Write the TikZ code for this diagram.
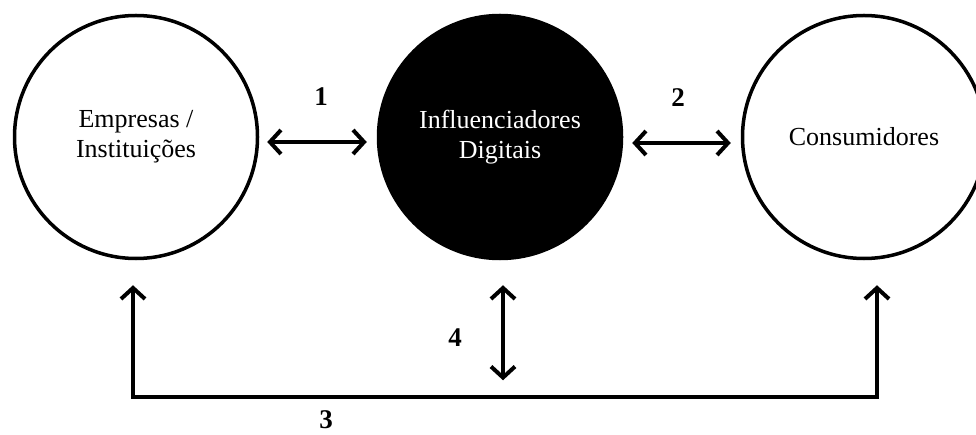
\documentclass[tikz,border=0pt]{standalone}
\usepackage{fontspec}
\setmainfont{Liberation Serif}
\usepackage{tikz}
\usepackage{xcolor}
\usetikzlibrary{arrows.meta, positioning, calc}

\begin{document}
\begin{tikzpicture}[
    x=1pt, y=1pt,
    circ/.style={circle, draw=black, line width=3.5pt, minimum size=243pt, inner sep=0pt, align=center, font=\fontsize{26}{30}\selectfont},
    circW/.style={circ, fill=white, text=black},
    circB/.style={circ, fill=black, text=white},
    link/.style={line width=4pt, black, {Straight Barb[length=11pt, width=24pt]}-{Straight Barb[length=11pt, width=24pt]}},
    numlabel/.style={font=\fontsize{27}{30}\selectfont\bfseries}
]
\useasboundingbox (0,0) rectangle (976,434);

% Actors
\node[circW] (emp) at (136,297) {Empresas /\\Instituições};
\node[circB] (infl) at (500,297) {Influenciadores\\Digitais};
\node[circW] (cons) at (864,297) {Consumidores};

% Links between the circles
\draw[link] ([shift={(8pt,-5pt)}]emp.east) -- ([shift={(-10pt,-5pt)}]infl.west);
\draw[link] ([shift={(9pt,-6pt)}]infl.east) -- ([shift={(-10pt,-6pt)}]cons.west);
\node[numlabel] (n1) at (321,337) {1};
\node[numlabel] (n2) at (678,336) {2};

% Link under the circles
\coordinate (base) at (500,37);
\draw[link] ([shift={(-3pt,-25pt)}]emp.south) |- (base) -| ([shift={(13pt,-25pt)}]cons.south);
\draw[link] ([shift={(3pt,-25pt)}]infl.south) -- ++(0,-95);
\node[numlabel] (n3) at (326,14) {3};
\node[numlabel] (n4) at (455,96) {4};

\end{tikzpicture}
\end{document}
